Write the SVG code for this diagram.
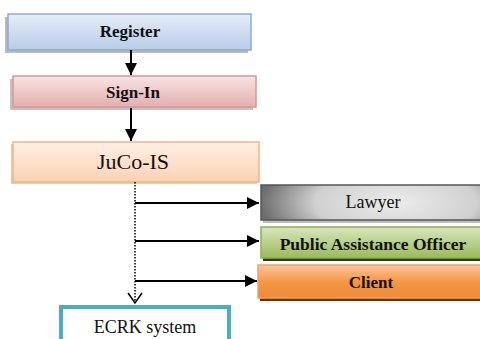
<svg xmlns="http://www.w3.org/2000/svg" width="480" height="339" viewBox="0 0 480 339">
<defs>
<linearGradient id="gBlue" x1="0" y1="0" x2="0" y2="1"><stop offset="0" stop-color="#e6eef8"/><stop offset="1" stop-color="#b8cce8"/></linearGradient>
<linearGradient id="gPink" x1="0" y1="0" x2="0" y2="1"><stop offset="0" stop-color="#f8e4e4"/><stop offset="1" stop-color="#e4aeae"/></linearGradient>
<linearGradient id="gPeach" x1="0" y1="0" x2="0" y2="1"><stop offset="0" stop-color="#fef0e6"/><stop offset="1" stop-color="#fbd2b2"/></linearGradient>
<radialGradient id="gGray" cx="0.6" cy="0.5" r="0.6" gradientTransform="translate(0.6 0.5) scale(1 2.5) translate(-0.6 -0.5)"><stop offset="0" stop-color="#ececec"/><stop offset="0.6" stop-color="#d0d0d0"/><stop offset="1" stop-color="#6e6e6e"/></radialGradient>
<linearGradient id="gGreen" x1="0" y1="0" x2="0" y2="1"><stop offset="0" stop-color="#d9e6bf"/><stop offset="1" stop-color="#9bbb59"/></linearGradient>
<linearGradient id="gOrange" x1="0" y1="0" x2="0" y2="1"><stop offset="0" stop-color="#fbc79e"/><stop offset="0.5" stop-color="#f79646"/><stop offset="1" stop-color="#ef8a38"/></linearGradient>
<marker id="ah" viewBox="0 0 12 12" refX="12" refY="6" markerWidth="12" markerHeight="12" markerUnits="userSpaceOnUse" orient="auto"><path d="M0,0 L12,6 L0,12 Z" fill="#000"/></marker>
</defs>
<style>
text{font-family:"Liberation Serif","Times New Roman",serif;fill:#111;text-anchor:middle}
.b{font-weight:bold}
.conn{stroke:#000;stroke-width:2;fill:none}
</style>
<g id="register">
<rect x="5" y="17" width="243" height="36" fill="#8e8e8e" opacity="0.6"/>
<rect x="8" y="14" width="243" height="36" fill="url(#gBlue)" stroke="#8eaad2" stroke-width="1.5"/>
<text x="130" y="37" class="b" font-size="17">Register</text>
</g>
<g id="signin">
<rect x="10" y="79" width="243" height="31" fill="#9a8080" opacity="0.5"/>
<rect x="13" y="76" width="243" height="31" fill="url(#gPink)" stroke="#d99694" stroke-width="1.5"/>
<text x="133" y="98" class="b" font-size="17">Sign-In</text>
</g>
<g id="jucois">
<rect x="11" y="144" width="246" height="40" fill="#c89a78" opacity="0.5"/>
<rect x="13" y="142" width="246" height="40" fill="url(#gPeach)" stroke="#f4b488" stroke-width="1.5"/>
<text x="133" y="169" font-size="22">JuCo-IS</text>
</g>
<g id="lawyer">
<rect x="263" y="188" width="225" height="35" fill="#bdbdbd"/>
<rect x="261" y="185" width="225" height="35" fill="url(#gGray)" stroke="#555" stroke-width="1.5"/>
<text x="373" y="208" font-size="18">Lawyer</text>
</g>
<g id="pao">
<rect x="263" y="230" width="225" height="31" fill="#2f3a15"/>
<rect x="261" y="227" width="225" height="31" fill="url(#gGreen)" stroke="#8fb050" stroke-width="1.5"/>
<text x="373" y="250" class="b" font-size="17.5">Public Assistance Officer</text>
</g>
<g id="client">
<rect x="260" y="268" width="228" height="33" fill="#6b3408"/>
<rect x="258" y="265" width="228" height="33" fill="url(#gOrange)" stroke="#f5a061" stroke-width="1.5"/>
<text x="371" y="288" class="b" font-size="17">Client</text>
</g>
<g id="ecrk">
<rect x="61" y="307" width="168" height="40" fill="#fff" stroke="#4bacc6" stroke-width="4"/>
<text x="145" y="333" font-size="18">ECRK system</text>
</g>
<g id="connectors">
<line x1="131" y1="50" x2="131" y2="75" class="conn" marker-end="url(#ah)"/>
<line x1="131" y1="108" x2="131" y2="141" class="conn" marker-end="url(#ah)"/>
<line x1="135" y1="182" x2="135" y2="302" stroke="#000" stroke-width="1.5" stroke-dasharray="1.5 1.5"/>
<polyline points="128,293 135,303 142,293" fill="none" stroke="#000" stroke-width="1.5"/>
<line x1="135" y1="203" x2="259" y2="203" class="conn" marker-end="url(#ah)"/>
<line x1="135" y1="241" x2="259" y2="241" class="conn" marker-end="url(#ah)"/>
<line x1="135" y1="281" x2="257" y2="281" class="conn" marker-end="url(#ah)"/>
</g>
</svg>
